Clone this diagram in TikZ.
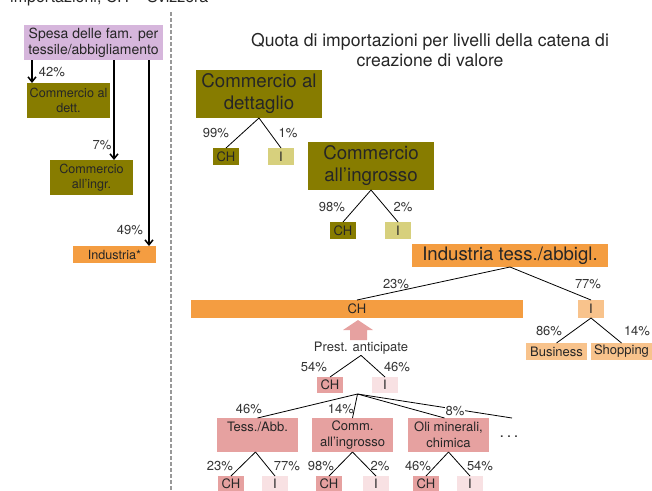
\documentclass[tikz,border=0pt]{standalone}
\usepackage{fontspec}
\setmainfont{TeX Gyre Heros}
\usetikzlibrary{arrows.meta}
\definecolor{oliv}{RGB}{135,124,0}
\definecolor{loliv}{RGB}{215,208,125}
\definecolor{orng}{RGB}{244,157,65}
\definecolor{lorng}{RGB}{248,195,140}
\definecolor{pnk}{RGB}{230,161,160}
\definecolor{lpnk}{RGB}{248,225,227}
\definecolor{purp}{RGB}{214,182,220}

\begin{document}
\begin{tikzpicture}[x=1pt,y=-1pt,
  bx/.style={inner sep=0pt,outer sep=0pt,align=center,text=black!85},
  sm/.style={font=\fontsize{13}{16}\selectfont},
  pct/.style={sm,inner sep=0pt,text=black!80},
  leaf/.style={bx,sm,minimum width=26pt,minimum height=17pt},
  big/.style={bx,font=\fontsize{18.7}{22}\selectfont,minimum width=126pt,minimum height=48pt,fill=oliv},
  arr/.style={-{Straight Barb[length=5pt,width=8pt]},line width=1.5pt},
  br/.style={line width=0.8pt}]
        \useasboundingbox (0,0) rectangle (652,490);
        \node[anchor=base west,inner sep=0pt,font=\fontsize{16}{20}\selectfont,text=black!85] (hdr) at (10,2) {importazioni, CH = Svizzera};
        \draw[gray!80,line width=1.5pt,dash pattern=on 4pt off 2pt] (171,12) -- (171,490);
        % left side
        \node[bx,font=\fontsize{14}{16}\selectfont,fill=purp,minimum width=139pt,minimum height=35pt] (spesa) at (93.5,42.5) {Spesa delle fam. per\\tessile/abbigliamento};
        \node[bx,font=\fontsize{12.6}{15}\selectfont,fill=oliv,minimum width=83pt,minimum height=35pt] (ldett) at (68.5,100.5) {Commercio al\\dett.};
        \node[bx,font=\fontsize{12.6}{15}\selectfont,fill=oliv,minimum width=83pt,minimum height=35pt] (lingr) at (91.5,177.5) {Commercio\\all’ingr.};
        \node[bx,font=\fontsize{12.6}{15}\selectfont,fill=orng,minimum width=83pt,minimum height=17pt] (lind) at (114.5,254.5) {Industria*};
        \draw[arr] ([xshift=5pt]ldett.north west |- spesa.south) -- ([xshift=5pt]ldett.north west);
        \draw[arr] ([xshift=64pt]lingr.north west |- spesa.south) -- ([xshift=64pt]lingr.north west);
        \draw[arr] ([xshift=76pt]lind.north west |- spesa.south) -- ([xshift=76pt]lind.north west);
        \node[pct] (p42) at (52,72) {42\%};
        \node[pct] (p7) at (102,145) {7\%};
        \node[pct] (p49) at (130,230) {49\%};
        % title
        \node[bx,font=\fontsize{17.6}{20}\selectfont] (title) at (430,50) {Quota di importazioni per livelli della catena di\\creazione di valore};
        % commercio al dettaglio
        \node[big] (rdett) at (259,94) {Commercio al\\dettaglio};
        \node[leaf,fill=oliv] (dCH) at (226,156.5) {CH};
        \node[leaf,fill=loliv] (dI) at (281,156.5) {I};
        \draw[br] (rdett.south) -- (dCH.north);
        \draw[br] (rdett.south) -- (dI.north);
        \node[pct] (p99) at (216,133) {99\%};
        \node[pct] (p1) at (288,133) {1\%};
        % commercio all'ingrosso
        \node[big] (ringr) at (371,166) {Commercio\\all’ingrosso};
        \node[leaf,fill=oliv] (gCH) at (343,230.5) {CH};
        \node[leaf,fill=loliv] (gI) at (398,230.5) {I};
        \draw[br] (ringr.south) -- (gCH.north);
        \draw[br] (ringr.south) -- (gI.north);
        \node[pct] (p98) at (332,207) {98\%};
        \node[pct] (p2) at (403,207) {2\%};
        % industria
        \node[bx,font=\fontsize{18.6}{20}\selectfont,fill=orng,minimum width=196pt,minimum height=23pt] (rind) at (510,255.5) {Industria tess./abbigl.};
        \node[leaf,fill=orng,minimum width=332pt,minimum height=18pt] (chbar) at (357,309) {CH};
        \node[leaf,fill=lorng,minimum height=18pt] (iI) at (591,309) {I};
        \draw[br] (rind.south) -- (chbar.north);
        \draw[br] (rind.south) -- (iI.north);
        \node[pct] (p23) at (396,284) {23\%};
        \node[pct] (p77) at (588,284) {77\%};
        \node[leaf,fill=lorng,minimum width=61pt] (bus) at (556.5,351.5) {Business};
        \node[leaf,fill=lorng,minimum width=61pt] (shop) at (621.5,351.5) {Shopping};
        \draw[br] (iI.south) -- (bus.north);
        \draw[br] (iI.south) -- (shop.north);
        \node[pct] (p86) at (549,331) {86\%};
        \node[pct] (p14) at (637,331) {14\%};
        % prestazioni anticipate
        \fill[pnk] (350,340) -- (350,330) -- (343,330) -- (358,320) -- (373,330) -- (367,330) -- (367,340) -- cycle;
        \node[pct,inner sep=1pt] (prest) at (361,348) {Prest. anticipate};
        \node[leaf,fill=pnk,minimum height=16pt] (pCH) at (330,385) {CH};
        \node[leaf,fill=lpnk,minimum height=16pt] (pI) at (385,385) {I};
        \draw[br] (prest.south) -- (pCH.north);
        \draw[br] (prest.south) -- (pI.north);
        \node[pct] (p54) at (314,367) {54\%};
        \node[pct] (p46) at (397,367) {46\%};
        \coordinate (pbr) at (357.5,394);
        \coordinate (dend) at (512,418);
        \node[bx,sm,fill=pnk,minimum width=81pt,minimum height=34pt] (tess) at (257.5,435) {Tess./Abb.\\\mbox{}};
        \node[bx,sm,fill=pnk,minimum width=81pt,minimum height=34pt] (comm) at (352.5,435) {Comm.\\all’ingrosso};
        \node[bx,sm,fill=pnk,minimum width=81pt,minimum height=34pt] (oli) at (448.5,435) {Oli minerali,\\chimica};
        \node[pct,font=\fontsize{16}{18}\selectfont] (dots) at (509,437) {.\,.\,.};
        \draw[br] (pbr) -- (tess.north);
        \draw[br] (pbr) -- (comm.north);
        \draw[br] (pbr) -- ([xshift=-4pt]oli.north);
        \draw[br] (pbr) -- (dend);
        \node[pct] (q46) at (249,409) {46\%};
        \node[pct] (q14) at (341,409) {14\%};
        \node[pct,fill=white,inner sep=1pt] (q8) at (455,411) {8\%};
        % sotto-livelli
        \node[leaf,minimum height=16pt,fill=pnk] (tCH) at (231,484) {CH};
        \node[leaf,minimum height=16pt,fill=lpnk] (tI) at (275,484) {I};
        \node[leaf,minimum height=16pt,fill=pnk] (cCH) at (329,484) {CH};
        \node[leaf,minimum height=16pt,fill=lpnk] (cI) at (376,484) {I};
        \node[leaf,minimum height=16pt,fill=pnk] (oCH) at (426,484) {CH};
        \node[leaf,minimum height=16pt,fill=lpnk] (oI) at (470,484) {I};
        \draw[br] ([xshift=-2pt]tess.south) -- (tCH.north);
        \draw[br] ([xshift=-2pt]tess.south) -- (tI.north);
        \draw[br] (comm.south) -- (cCH.north);
        \draw[br] (comm.south) -- (cI.north);
        \draw[br] (oli.south) -- (oCH.north);
        \draw[br] (oli.south) -- (oI.north);
        \node[pct] (r23) at (220,466) {23\%};
        \node[pct] (r77) at (287,466) {77\%};
        \node[pct] (r98) at (321,466) {98\%};
        \node[pct] (r2) at (380,466) {2\%};
        \node[pct] (r46) at (418,466) {46\%};
        \node[pct] (r54) at (480,466) {54\%};
\end{tikzpicture}
\end{document}
